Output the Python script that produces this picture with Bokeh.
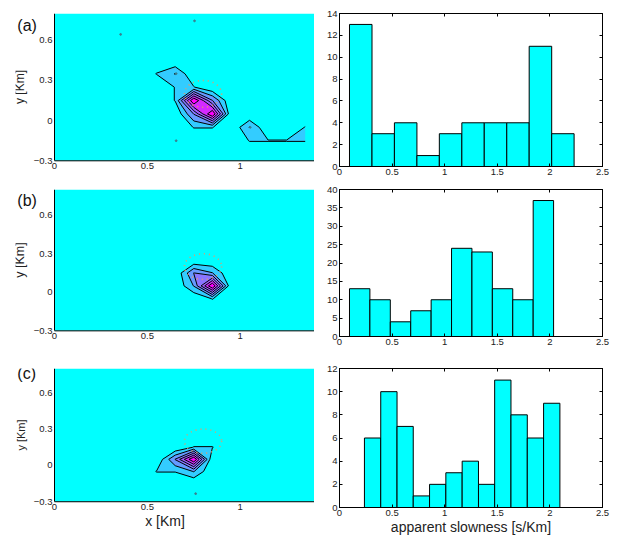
import numpy as np
from bokeh.plotting import figure
from bokeh.layouts import row, column
from bokeh.models import FixedTicker, LinearAxis, Label, Range1d, BoxAnnotation
from bokeh.embed import file_html
from bokeh.resources import INLINE

FONT = "Liberation Sans"

# ---- location grid (km) ----
grid_x = [0.05, 0.15, 0.25, 0.35, 0.45, 0.55, 0.65, 0.75, 0.85, 0.95, 1.05, 1.15, 1.25, 1.35]
grid_y = [-0.25, -0.15, -0.05, 0.05, 0.15, 0.25, 0.35, 0.45, 0.55, 0.65, 0.75]

# non-zero grid nodes of each density map
a_node_x = [0.55, 0.65, 0.65, 0.65, 0.75, 0.75, 0.85, 0.75, 0.85, 0.75, 0.85, 1.05, 1.05, 1.15, 1.25, 1.35, 1.35]
a_node_y = [0.35, 0.35, 0.25, 0.15, 0.25, 0.15, 0.15, 0.05, 0.05, -0.05, -0.05, -0.05, -0.15, -0.15, -0.15, -0.15, -0.05]
a_node_v = [1, 2, 1, 1, 1, 7, 3, 3, 7, 1, 1, 2, 1, 1, 1, 1, 1]

b_node_x = [0.75, 0.85, 0.75, 0.85, 0.85]
b_node_y = [0.15, 0.15, 0.05, 0.05, -0.05]
b_node_v = [3, 2, 2, 7, 1]

c_node_x = [0.75, 0.65, 0.65, 0.55, 0.75, 0.75, 0.85]
c_node_y = [0.05, 0.05, -0.05, -0.05, -0.05, 0.15, 0.15]
c_node_v = [7, 3, 1, 1, 2, 1, 1]

# station marks
a_dot_x = [0.356, 0.754, 0.655, 0.655, 1.054]
a_dot_y = [0.644, 0.745, 0.351, -0.15, -0.05]
b_dot_x = []
b_dot_y = []
c_dot_x = [0.76]
c_dot_y = [-0.233]

# reference circle
circle_x = 0.8
circle_y = 0.2
circle_r = 0.1

contour_levels = [0.95, 1.95, 2.95, 3.95, 4.95, 5.95, 99.0]
band_colors = ["#33ccff", "#6699ff", "#8a75ff", "#a35cff", "#d42aff", "#ff00ff"]

# ---- apparent slowness histograms ----
hist_a_edges = [0.095, 0.309, 0.522, 0.736, 0.949, 1.163, 1.376, 1.590, 1.803, 2.017, 2.230]
hist_a_counts = [13, 3, 4, 1, 3, 4, 4, 4, 11, 3]
hist_b_edges = [0.095, 0.289, 0.483, 0.677, 0.871, 1.065, 1.259, 1.453, 1.647, 1.841, 2.035]
hist_b_counts = [13, 10, 4, 7, 10, 24, 23, 13, 10, 37]
hist_c_edges = [0.237, 0.392, 0.547, 0.701, 0.856, 1.011, 1.166, 1.321, 1.475, 1.630, 1.785, 1.940, 2.095]
hist_c_counts = [6, 10, 7, 1, 2, 3, 4, 2, 11, 8, 6, 9]

map_xticks = [0, 0.5, 1]
map_yticks = [-0.3, 0, 0.3, 0.6]
hist_xticks = [0, 0.5, 1, 1.5, 2, 2.5]

MAP_X0, MAP_X1 = 0.0, 1.4
MAP_Y0, MAP_Y1 = -0.3, 0.8
MAP_FULL_W = 314
MAP_BORDER_L = 15
MAP_LEFT_PX = 39     # room left of x=0 (inside the frame) for the tag and y-axis texts
MAP_LOW_PX = 6       # room below y=-0.3 (inside the frame) for the lowest y tick label


def build_grid(nx, ny, nv):
    z = np.zeros((len(grid_y), len(grid_x)))
    for x, y, v in zip(nx, ny, nv):
        i = int(round((x - grid_x[0]) / 0.1))
        j = int(round((y - grid_y[0]) / 0.1))
        z[j, i] = v
    return z


def style_axis(ax, size="9.5px"):
    ax.major_label_text_font = FONT
    ax.major_label_text_font_size = size
    ax.major_label_text_color = "#222222"
    ax.axis_label_text_font = FONT
    ax.axis_label_text_font_style = "normal"
    ax.axis_label_text_color = "#222222"
    ax.minor_tick_line_color = None
    ax.axis_line_color = "black"


def map_panel(nx, ny, nv, dx, dy, tag, tag_y, height, top, bottom, ylab_size, xlabel=None):
    # the frame is a little larger than the map box, so that the y-axis (drawn at x=0)
    # keeps its texts inside it; the map box itself is the cyan rectangle
    frame_w = MAP_FULL_W - MAP_BORDER_L
    x_scale = (frame_w - MAP_LEFT_PX) / (MAP_X1 - MAP_X0)
    frame_h = height - top - bottom
    y_scale = (frame_h - MAP_LOW_PX) / (MAP_Y1 - MAP_Y0)
    x_pad = MAP_LEFT_PX / x_scale
    y_pad = MAP_LOW_PX / y_scale
    p = figure(width=MAP_FULL_W, height=height,
               x_range=Range1d(MAP_X0 - x_pad, MAP_X1), y_range=Range1d(MAP_Y0 - y_pad, MAP_Y1),
               y_axis_location=None,
               output_backend="svg", toolbar_location=None,
               min_border_left=MAP_BORDER_L, min_border_right=0,
               min_border_top=top, min_border_bottom=bottom)
    p.background_fill_color = "white"
    p.outline_line_color = None
    p.grid.visible = False
    p.add_layout(BoxAnnotation(left=MAP_X0, bottom=MAP_Y0, fill_color="#00ffff", fill_alpha=1,
                               line_color=None, level="underlay"))
    z = build_grid(nx, ny, nv)
    p.contour(x=grid_x, y=grid_y, z=z, levels=contour_levels, fill_color=band_colors,
              line_color="black", line_width=1)
    p.ellipse(x=[circle_x], y=[circle_y], width=2 * circle_r, height=2 * circle_r,
              fill_color=None, line_color="#e39a6a", line_dash="1 4", line_width=1.6)
    if dx:
        p.scatter(dx, dy, size=1.8, color="#3a8090")
    # bottom edge of the map box
    p.segment(x0=[MAP_X0], y0=[MAP_Y0], x1=[MAP_X1], y1=[MAP_Y0], line_color="black", line_width=1)

    xax = p.below[0]
    xax.bounds = (MAP_X0, MAP_X1)
    xax.ticker = FixedTicker(ticks=map_xticks)
    xax.major_label_overrides = {0: "0", 0.5: "0.5", 1: "1"}
    yax = LinearAxis(fixed_location=MAP_X0, bounds=(MAP_Y0, MAP_Y1),
                     ticker=FixedTicker(ticks=map_yticks),
                     major_label_overrides={-0.3: "\u22120.3", 0: "0", 0.3: "0.3", 0.6: "0.6"})
    p.add_layout(yax, "left")

    for ax in (xax, yax):
        style_axis(ax)
        ax.major_tick_in = 0
        ax.major_tick_out = 0
    yax.major_label_standoff = 2
    xax.major_label_standoff = 2 - MAP_LOW_PX
    xax.axis_line_color = None
    yax.axis_label = "y [Km]"
    yax.axis_label_text_font_size = ylab_size
    yax.axis_label_standoff = 4
    if xlabel:
        xax.axis_label = xlabel
        xax.axis_label_text_font_size = "14px"
        xax.axis_label_standoff = 0
    p.add_layout(Label(x=MAP_X0 - 0.2, y=tag_y, text=tag, text_font=FONT, text_font_size="16px",
                       text_baseline="middle", text_color="#111111"))
    return p


def hist_panel(edges, counts, ymax, yticks, height, top, bottom, xlabel=None):
    p = figure(width=303, height=height, x_range=Range1d(0, 2.5), y_range=Range1d(0, ymax),
               output_backend="svg", toolbar_location=None,
               min_border_left=25, min_border_right=15, min_border_top=top, min_border_bottom=bottom)
    p.background_fill_color = "white"
    p.outline_line_color = "black"
    p.grid.visible = False
    p.quad(left=edges[:-1], right=edges[1:], bottom=0, top=counts,
           fill_color="#00ffff", line_color="black", line_width=1)
    xax, yax = p.below[0], p.left[0]
    xax.ticker = FixedTicker(ticks=hist_xticks)
    xax.major_label_overrides = {0: "0", 0.5: "0.5", 1: "1", 1.5: "1.5", 2: "2", 2.5: "2.5"}
    yax.ticker = FixedTicker(ticks=yticks)
    for ax in (xax, yax):
        style_axis(ax)
        ax.major_tick_in = 3
        ax.major_tick_out = 0
        ax.major_label_standoff = 2
    # tick marks along the top and right edges of the box
    for loc, ticks in (("above", hist_xticks), ("right", yticks)):
        extra = LinearAxis(ticker=FixedTicker(ticks=ticks),
                           major_label_overrides={t: "" for t in ticks},
                           major_tick_in=3, major_tick_out=0, major_label_standoff=0,
                           minor_tick_line_color=None, axis_line_color="black")
        p.add_layout(extra, loc)
    if xlabel:
        xax.axis_label = xlabel
        xax.axis_label_text_font_size = "14px"
        xax.axis_label_standoff = 0
    return p


map_a = map_panel(a_node_x, a_node_y, a_node_v, a_dot_x, a_dot_y, "(a)", 0.708, 180, 10, 9, "12px")
map_b = map_panel(b_node_x, b_node_y, b_node_v, b_dot_x, b_dot_y, "(b)", 0.716, 175, 7, 12, "12.5px")
map_c = map_panel(c_node_x, c_node_y, c_node_v, c_dot_x, c_dot_y, "(c)", 0.755, 182, 13, 24, "11px",
                  xlabel="x [Km]")

hist_a = hist_panel(hist_a_edges, hist_a_counts, 14, [0, 2, 4, 6, 8, 10, 12, 14], 180, 13, 14)
hist_b = hist_panel(hist_b_edges, hist_b_counts, 40, [0, 5, 10, 15, 20, 25, 30, 35, 40], 175, 9, 19)
hist_c = hist_panel(hist_c_edges, hist_c_counts, 12, [0, 2, 4, 6, 8, 10, 12], 182, 13, 26,
                    xlabel="apparent slowness [s/Km]")

layout = column(row(map_a, hist_a), row(map_b, hist_b), row(map_c, hist_c))

open("out.html", "w").write(file_html(layout, INLINE))
